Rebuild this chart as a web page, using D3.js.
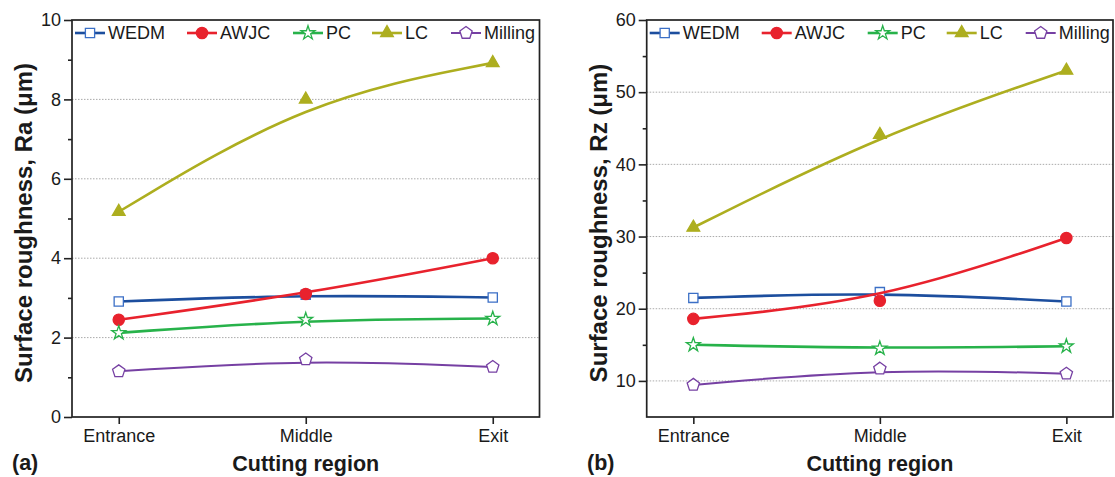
<!DOCTYPE html>
<html>
<head>
<meta charset="utf-8">
<script src="https://cdn.jsdelivr.net/npm/d3@7"></script>
<style>
  body { margin: 0; background: #fff; }
  text { font-family: "Liberation Sans", Arial, sans-serif; fill: #1a1a1a; }
</style>
</head>
<body>
<svg id="chart" width="1115" height="477"></svg>
<script>
// categories
const regions = ["Entrance", "Middle", "Exit"];
const methods = ["WEDM", "AWJC", "PC", "LC", "Milling"];

// (a) Ra, µm
const raWEDM    = [2.91, 3.08, 3.01];
const raAWJC    = [2.45, 3.10, 4.00];
const raPC      = [2.12, 2.45, 2.48];
const raLC      = [5.17, 8.00, 8.92];
const raMilling = [1.15, 1.45, 1.26];

// (b) Rz, µm
const rzWEDM    = [21.5, 22.3, 21.0];
const rzAWJC    = [18.6, 21.1, 29.8];
const rzPC      = [15.0, 14.5, 14.8];
const rzLC      = [31.25, 44.1, 53.0];
const rzMilling = [9.45, 11.7, 11.0];

// tick labels
const raTicks = [0, 2, 4, 6, 8, 10];
const raMinor = [1, 3, 5, 7, 9];
const rzTicks = [10, 20, 30, 40, 50, 60];
const rzMinor = [15, 25, 35, 45, 55];

const colors = {
  WEDM:    {line: "#1c4e9e", mark: "#3b6fc6", fill: "#fff"},
  AWJC:    {line: "#e8222d", mark: "#e8222d", fill: "#e8222d"},
  PC:      {line: "#27b24a", mark: "#27b24a", fill: "#fff"},
  LC:      {line: "#adae1f", mark: "#adae1f", fill: "#adae1f"},
  Milling: {line: "#7640a3", mark: "#7640a3", fill: "#fff"}
};

const pentagon = {
  draw(ctx, size) {
    const r = Math.sqrt(size / 2.378);
    for (let k = 0; k < 5; k++) {
      const a = -Math.PI / 2 + k * 2 * Math.PI / 5;
      if (k === 0) ctx.moveTo(r * Math.cos(a), r * Math.sin(a));
      else ctx.lineTo(r * Math.cos(a), r * Math.sin(a));
    }
    ctx.closePath();
  }
};

const symbols = {
  WEDM:    d3.symbol().type(d3.symbolSquare).size(85),
  AWJC:    d3.symbol().type(d3.symbolCircle).size(100),
  PC:      d3.symbol().type(d3.symbolStar).size(60),
  LC:      d3.symbol().type(d3.symbolTriangle).size(70),
  Milling: d3.symbol().type(pentagon).size(100)
};

const panels = [
  {left: 72, right: 539.5, yDomain: [0, 10], ticks: raTicks, minor: raMinor,
   grid: [2, 4, 6, 8], title: "Surface roughness, Ra (\u03bcm)", titleX: 32, tag: "(a)", tagX: 12,
   data: {WEDM: raWEDM, AWJC: raAWJC, PC: raPC, LC: raLC, Milling: raMilling}},
  {left: 646.7, right: 1113, yDomain: [5, 60], ticks: rzTicks, minor: rzMinor,
   grid: [10, 20, 30, 40, 50], title: "Surface roughness, Rz (\u03bcm)", titleX: 607, tag: "(b)", tagX: 587,
   data: {WEDM: rzWEDM, AWJC: rzAWJC, PC: rzPC, LC: rzLC, Milling: rzMilling}}
];

const plotTop = 20, plotBottom = 417;
const legendOffsets = [18, 130, 236, 315, 394];
const svg = d3.select("#chart");

panels.forEach(p => {
  const g = svg.append("g");
  const x = d3.scalePoint().domain(regions).range([p.left, p.right]).padding(0.25);
  const y = d3.scaleLinear().domain(p.yDomain).range([plotBottom, plotTop]);

  // dotted grid
  g.selectAll(".grid").data(p.grid).join("line")
    .attr("x1", p.left).attr("x2", p.right)
    .attr("y1", d => y(d)).attr("y2", d => y(d))
    .attr("stroke", "#a0a0a0").attr("stroke-width", 0.9)
    .attr("stroke-dasharray", "1.5,1.5");

  // axes
  const yAxis = g.append("g").attr("transform", `translate(${p.left},0)`)
    .call(d3.axisLeft(y).tickValues(p.ticks).tickSize(8).tickPadding(3));
  const yMinor = g.append("g").attr("transform", `translate(${p.left},0)`)
    .call(d3.axisLeft(y).tickValues(p.minor).tickSize(4).tickFormat(""));
  const xAxis = g.append("g").attr("transform", `translate(0,${plotBottom})`)
    .call(d3.axisBottom(x).tickSize(7).tickPadding(5));
  [yAxis, yMinor, xAxis].forEach(a => {
    a.select(".domain").remove();
    a.selectAll("line").attr("stroke", "#222").attr("stroke-width", 1.6);
    a.selectAll("text").style("font-size", "18px").attr("fill", "#1a1a1a");
  });

  // frame
  g.append("rect")
    .attr("x", p.left).attr("y", plotTop)
    .attr("width", p.right - p.left).attr("height", plotBottom - plotTop)
    .attr("fill", "none").attr("stroke", "#222").attr("stroke-width", 1.7);

  // series
  const line = d3.line().x((d, i) => x(regions[i])).y(d => y(d)).curve(d3.curveBasis);
  methods.forEach(m => {
    const vals = p.data[m];
    g.append("path").datum(vals)
      .attr("d", line)
      .attr("fill", "none")
      .attr("stroke", colors[m].line)
      .attr("stroke-width", m === "Milling" ? 2 : 2.6);
    g.selectAll(".pt-" + m).data(vals).join("path")
      .attr("transform", (d, i) => `translate(${x(regions[i])},${y(d)})`)
      .attr("d", symbols[m])
      .attr("fill", colors[m].fill)
      .attr("stroke", colors[m].mark)
      .attr("stroke-width", 1.3);
  });

  // legend
  const lg = g.selectAll(".leg").data(methods).join("g")
    .attr("transform", (d, i) => `translate(${p.left + legendOffsets[i]},33)`);
  lg.append("line")
    .attr("x1", -15).attr("x2", 15)
    .attr("stroke", d => colors[d].line)
    .attr("stroke-width", d => d === "Milling" ? 2 : 2.6);
  lg.append("path")
    .attr("d", d => symbols[d]())
    .attr("fill", d => colors[d].fill)
    .attr("stroke", d => colors[d].mark)
    .attr("stroke-width", 1.3);
  lg.append("text")
    .attr("x", 18).attr("dy", "0.35em")
    .style("font-size", "18px")
    .text(d => d);

  // titles
  g.append("text")
    .attr("transform", `translate(${p.titleX},223) rotate(-90)`)
    .attr("text-anchor", "middle")
    .style("font-size", "24px").style("font-weight", "bold")
    .text(p.title);
  g.append("text")
    .attr("x", (p.left + p.right) / 2).attr("y", 471)
    .attr("text-anchor", "middle")
    .style("font-size", "21.5px").style("font-weight", "bold")
    .text("Cutting region");
  g.append("text")
    .attr("x", p.tagX).attr("y", 470)
    .style("font-size", "21.5px").style("font-weight", "bold")
    .text(p.tag);
});
</script>
</body>
</html>
